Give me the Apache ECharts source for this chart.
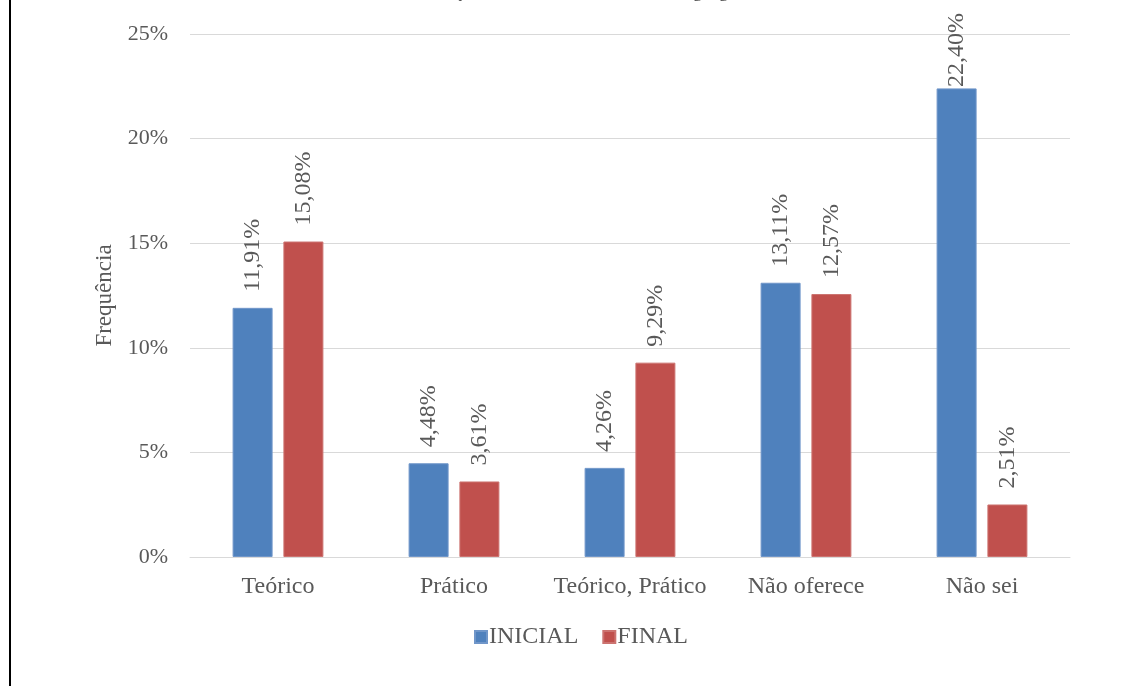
<!DOCTYPE html>
<html>
<head>
<meta charset="utf-8">
<style>
  html, body { margin: 0; padding: 0; background: #fff; }
  #chart { width: 1133px; height: 686px; }
</style>
<script src="https://cdn.jsdelivr.net/npm/echarts@6/dist/echarts.min.js"></script>
</head>
<body>
<div id="chart"></div>
<script>
// Response categories and share of answers (%) at the start and end of the course
const categories = ['Teórico', 'Prático', 'Teórico, Prático', 'Não oferece', 'Não sei'];
const inicial = [11.91, 4.48, 4.26, 13.11, 22.40];
const final = [15.08, 3.61, 9.29, 12.57, 2.51];
const seriesNames = ['INICIAL', 'FINAL'];
const yTicks = [0, 5, 10, 15, 20, 25];

const FONT = '"Liberation Serif", "Times New Roman", serif';
const TEXT = '#595959';

const chart = echarts.init(document.getElementById('chart'), null, { renderer: 'canvas' });

const fmtPct = v => v.toFixed(2).replace('.', ',') + '%';

const labelCfg = {
  show: true,
  position: 'top',
  rotate: 90,
  align: 'left',
  verticalAlign: 'middle',
  distance: 16,
  color: TEXT,
  fontFamily: FONT,
  fontSize: 24,
  formatter: p => fmtPct(p.value)
};

// keep value labels from running off the top edge of the canvas
// (labels are rotated, so their local x runs upward on screen)
const keepInside = p => {
  const over = 13 - p.labelRect.y;
  return over > 0 ? { dx: -over } : {};
};

chart.setOption({
  backgroundColor: '#ffffff',
  animation: false,
  title: {
    text: 'Formação de docentes em ensino de linguagem',
    left: 404,
    top: -22,
    textStyle: { fontFamily: FONT, fontSize: 18, fontWeight: 'normal', color: '#404040' }
  },
  graphic: [{
    type: 'rect',
    shape: { x: 10, y: -20, width: 1200, height: 740 },
    style: { fill: 'none', stroke: '#000', lineWidth: 2 },
    silent: true
  }],
  grid: { left: 190, right: 63, top: 34, bottom: 129 },
  legend: {
    data: seriesNames,
    bottom: 32,
    left: 469,
    icon: 'rect',
    itemWidth: 12,
    itemHeight: 12,
    itemGap: 24,
    textStyle: { fontFamily: FONT, fontSize: 24, color: TEXT, padding: [0, 0, 0, -3] }
  },
  xAxis: {
    type: 'category',
    data: categories,
    axisLine: { lineStyle: { color: '#D9D9D9', width: 1 } },
    axisTick: { show: false },
    axisLabel: { interval: 0, color: TEXT, fontFamily: FONT, fontSize: 24, margin: 18 }
  },
  yAxis: {
    type: 'value',
    min: yTicks[0],
    max: yTicks[yTicks.length - 1],
    interval: 5,
    name: 'Frequência',
    nameLocation: 'middle',
    nameGap: 70,
    nameRotate: 90,
    nameTextStyle: { color: TEXT, fontFamily: FONT, fontSize: 23 },
    axisLine: { show: false },
    axisTick: { show: false },
    splitLine: { lineStyle: { color: '#D9D9D9', width: 1 } },
    axisLabel: { color: TEXT, fontFamily: FONT, fontSize: 22, margin: 22, formatter: v => v + '%' }
  },
  series: [
    {
      name: seriesNames[0],
      type: 'bar',
      data: inicial,
      barWidth: 40,
      barGap: '27%',
      itemStyle: { color: '#4F81BD', borderColor: '#7096C9', borderWidth: 1 },
      label: labelCfg,
      labelLayout: keepInside
    },
    {
      name: seriesNames[1],
      type: 'bar',
      data: final,
      barWidth: 40,
      barGap: '27%',
      itemStyle: { color: '#C0504D', borderColor: '#CC7370', borderWidth: 1 },
      label: labelCfg,
      labelLayout: keepInside
    }
  ]
});
</script>
</body>
</html>
